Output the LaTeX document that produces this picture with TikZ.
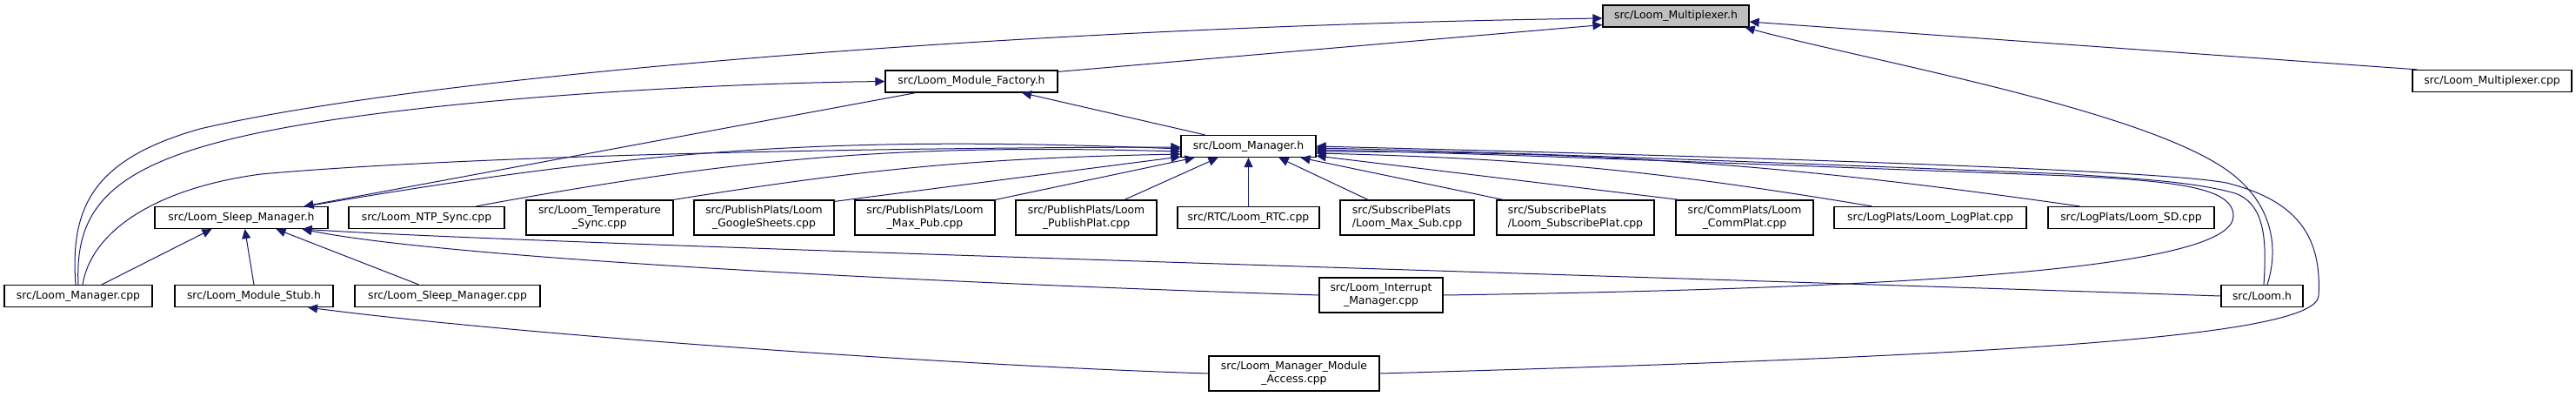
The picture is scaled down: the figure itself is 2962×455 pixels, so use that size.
\documentclass[tikz,border=0pt]{standalone}
\usepackage{fontspec}
\setmainfont{DejaVu Sans}
\usepackage{tikz}
\usetikzlibrary{arrows.meta}
\definecolor{edgec}{RGB}{25,25,112}
\definecolor{hdrc}{RGB}{191,191,191}
\tikzset{
  file/.style={draw=black,line width=1.2pt,fill=white,inner sep=0pt,
               minimum height=25pt,font=\fontsize{12.4}{15}\selectfont},
  file2/.style={file,minimum height=40pt},
  inc/.style={draw=edgec,line width=1pt,-{Triangle[length=11pt,width=10pt]}}
}

\begin{document}
\begin{tikzpicture}[x=1pt,y=-1pt]
\path[fill=white] (0,0) rectangle (2962,455);
\useasboundingbox (0,0) rectangle (2962,455);

\node[file,fill=hdrc,minimum width=168pt] (mux) at (1927,18.5) {src/Loom\_Multiplexer.h};
\node[file,minimum width=183pt] (mcpp) at (2865.5,93) {src/Loom\_Multiplexer.cpp};
\node[file,minimum width=198pt] (fac) at (1117,93.5) {src/Loom\_Module\_Factory.h};
\node[file,minimum width=155pt] (lmh) at (1435.5,168) {src/Loom\_Manager.h};

\node[file,minimum width=199pt] (slh) at (277.5,250) {src/Loom\_Sleep\_Manager.h};
\node[file,minimum width=179pt] (ntp) at (490.5,250) {src/Loom\_NTP\_Sync.cpp};
\node[file2,minimum width=169pt,align=center] (temp) at (689.5,250) {src/Loom\_Temperature\\\_Sync.cpp};
\node[file2,minimum width=161pt,align=center] (gsheet) at (878.5,250) {src/PublishPlats/Loom\\\_GoogleSheets.cpp};
\node[file2,minimum width=161pt,align=center] (maxpub) at (1063.5,250) {src/PublishPlats/Loom\\\_Max\_Pub.cpp};
\node[file2,minimum width=162pt,align=center] (pubplat) at (1249,250) {src/PublishPlats/Loom\\\_PublishPlat.cpp};
\node[file,minimum width=163pt] (rtc) at (1435.5,250) {src/RTC/Loom\_RTC.cpp};
\node[file2,minimum width=154pt,align=left] (maxsub) at (1618,250) {src/SubscribePlats\\/Loom\_Max\_Sub.cpp};
\node[file2,minimum width=181pt,align=left] (subplat) at (1811.5,250) {src/SubscribePlats\\/Loom\_SubscribePlat.cpp};
\node[file2,minimum width=158pt,align=center] (commplat) at (2006,250) {src/CommPlats/Loom\\\_CommPlat.cpp};
\node[file,minimum width=221pt] (logplat) at (2219.5,250) {src/LogPlats/Loom\_LogPlat.cpp};
\node[file,minimum width=191pt] (sd) at (2450.5,250) {src/LogPlats/Loom\_SD.cpp};

\node[file,minimum width=170pt] (lmcpp) at (90,340) {src/Loom\_Manager.cpp};
\node[file,minimum width=182pt] (stub) at (292,340) {src/Loom\_Module\_Stub.h};
\node[file,minimum width=213pt] (slcpp) at (514.5,340) {src/Loom\_Sleep\_Manager.cpp};
\node[file2,minimum width=142pt,align=center] (intr) at (1588,339) {src/Loom\_Interrupt\\\_Manager.cpp};
\node[file,minimum width=94pt] (loomh) at (2601,340) {src/Loom.h};
\node[file2,minimum width=196pt,align=center] (access) at (1488,429) {src/Loom\_Manager\_Module\\\_Access.cpp};

\draw[inc] ([xshift=-3pt]lmcpp.north) .. controls (80,235) and (110,182) .. (230,148)
  .. controls (500,85) and (1200,30) .. ([yshift=-2.5pt]mux.west);
\draw[inc] ([yshift=-2pt]fac.north east) -- ([yshift=-10pt]mux.west);
\draw[inc] ([xshift=6pt]mcpp.north west) -- ([yshift=-6.5pt]mux.east);
\draw[inc] ([xshift=6pt]loomh.north) .. controls (2622,280) and (2610,230) .. (2560,195)
  .. controls (2460,125) and (2150,70) .. ([xshift=-5pt]mux.south east);

\draw[inc] (lmcpp.north) .. controls (86,240) and (125,188) .. (300,152)
  .. controls (480,115) and (800,96) .. (fac.west);
\draw[inc] ([xshift=-50pt]lmh.north) -- ([xshift=58pt]fac.south);

\draw[inc] ([xshift=-64pt]fac.south) -- ([xshift=72pt]slh.north);
\draw[inc] ([xshift=27pt]lmcpp.north) -- ([xshift=-34pt]slh.south);
\draw[inc] (stub.north) -- ([xshift=4pt]slh.south);
\draw[inc] ([xshift=-33pt]slcpp.north) -- ([xshift=40pt]slh.south);
\draw[inc] (intr.west) .. controls (1100,326) and (520,298) .. ([xshift=70pt]slh.south);
\draw[inc] (loomh.west) .. controls (1900,318) and (600,280) .. ([xshift=70pt]slh.south);
\draw[inc] (access.west) .. controls (1100,420) and (600,385) .. ([xshift=62pt]stub.south);

\draw[inc] ([xshift=5pt]lmcpp.north) .. controls (105,265) and (180,216) .. (300,200)
  .. controls (500,182) and (900,170) .. ([yshift=-1pt]lmh.west);
\draw[inc] ([xshift=75pt]slh.north) to[bend left=6] ([yshift=-3pt]lmh.west);
\draw[inc] ([xshift=57pt]ntp.north) to[bend left=6] ([yshift=-6pt]lmh.west);
\draw[inc] (temp.north east) to[bend left=4] ([yshift=-9pt]lmh.west);
\draw[inc] ([yshift=-2pt]gsheet.north east) -- ([yshift=-12pt]lmh.west);
\draw[inc] (maxpub.north east) -- ([xshift=-62pt]lmh.south);
\draw[inc] ([xshift=44pt]pubplat.north) -- ([xshift=-35pt]lmh.south);
\draw[inc] (rtc.north) -- (lmh.south);
\draw[inc] ([xshift=-45pt]maxsub.north) -- ([xshift=35pt]lmh.south);
\draw[inc] ([xshift=8pt]subplat.north west) -- ([xshift=60pt]lmh.south);
\draw[inc] ([xshift=4pt]commplat.north west) -- ([yshift=-11pt]lmh.east);
\draw[inc] ([xshift=44pt]logplat.north west) to[bend right=4] ([yshift=-8pt]lmh.east);
\draw[inc] ([xshift=37pt]sd.north west) to[bend right=4] ([yshift=-6pt]lmh.east);
\draw[inc] (intr.east) .. controls (2300,330) and (2568,300) .. (2568,248)
  .. controls (2568,215) and (2500,208) .. (2380,202)
  .. controls (2000,188) and (1700,176) .. ([yshift=-4pt]lmh.east);
\draw[inc] ([xshift=2pt]loomh.north) .. controls (2606,280) and (2606,235) .. (2570,222)
  .. controls (2520,208) and (2450,205) .. (2380,200)
  .. controls (2000,185) and (1700,174) .. ([yshift=-2pt]lmh.east);
\draw[inc] (access.east) .. controls (2250,410) and (2662,390) .. (2666,340)
  .. controls (2670,270) and (2640,230) .. (2560,210)
  .. controls (2480,195) and (2000,180) .. (lmh.east);
\end{tikzpicture}
\end{document}
